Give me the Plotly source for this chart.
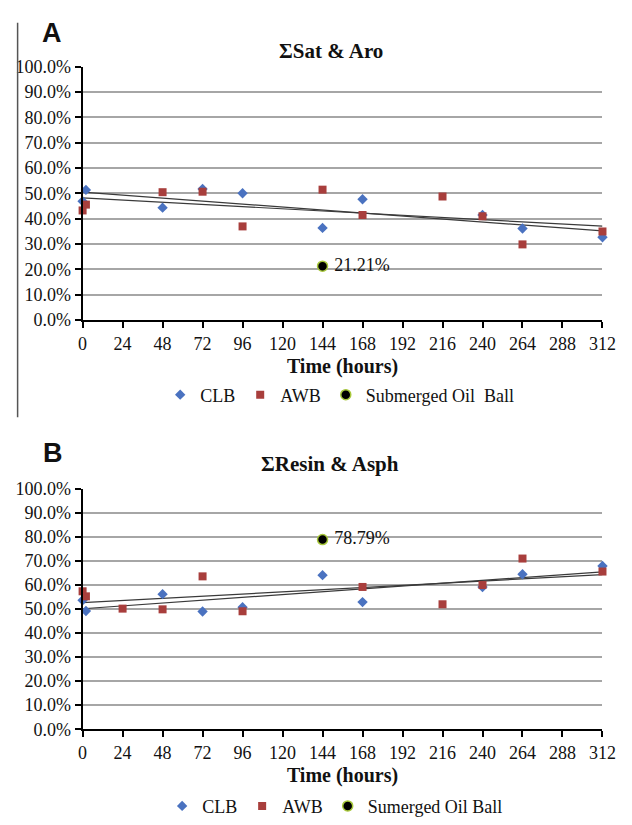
import numpy as np
import plotly.graph_objects as go

# ---------------- data ----------------
tick_hours = [0, 24, 48, 72, 96, 120, 144, 168, 192, 216, 240, 264, 288, 312]
y_ticks = [0, 10, 20, 30, 40, 50, 60, 70, 80, 90, 100]
y_tick_text = [f"{v:.1f}%" for v in y_ticks]

# Panel A: Sum Sat & Aro (%)
hours_clb_a = [0, 2, 48, 72, 96, 144, 168, 240, 264, 312]
clb_a = [46.8, 51.3, 44.3, 51.7, 50.0, 36.3, 47.6, 41.4, 36.1, 32.6]
hours_awb_a = [0, 2, 48, 72, 96, 144, 168, 216, 240, 264, 312]
awb_a = [43.2, 45.5, 50.4, 50.6, 36.9, 51.4, 41.4, 48.7, 40.9, 29.8, 34.9]
ball_hours = [144]
ball_a = [21.21]

# Panel B: Sum Resin & Asph (%)
hours_clb_b = [0, 2, 48, 72, 96, 144, 168, 240, 264, 312]
clb_b = [53.6, 49.1, 56.1, 48.9, 50.7, 64.0, 52.8, 59.1, 64.4, 67.8]
hours_awb_b = [0, 2, 24, 48, 72, 96, 168, 216, 240, 264, 312]
awb_b = [57.3, 55.2, 50.1, 49.8, 63.5, 49.0, 59.1, 51.9, 59.9, 70.9, 65.5]
ball_b = [78.79]

# ---------------- styles ----------------
W, H = 632, 825
SERIF = "Liberation Serif, Times New Roman, serif"
SANS = "Liberation Sans, Arial, sans-serif"
BLUE = "#4a72c0"
RED = "#a83e3c"
GRID = "#a6a6a6"
TREND = "#3a3a3a"
TXT = "#111"


def px_x(p):
    return p / W


def px_y(p):
    return 1 - p / H


fig = go.Figure()


def add_panel(xa, ya, leg, hc, yc, ha, ya_vals, yb, ball_name):
    xr = [0, 312]
    for hx, yy in ((hc, yc), (ha, ya_vals)):
        k, b = np.polyfit(hx, yy, 1)
        fig.add_trace(go.Scatter(x=xr, y=[b + k * v for v in xr], mode="lines",
                                 line=dict(color=TREND, width=1.2), showlegend=False,
                                 hoverinfo="skip", xaxis=xa, yaxis=ya))
    fig.add_trace(go.Scatter(x=hc, y=yc, mode="markers", name="CLB",
                             marker=dict(symbol="diamond", size=8, color=BLUE),
                             cliponaxis=False, xaxis=xa, yaxis=ya, legend=leg))
    fig.add_trace(go.Scatter(x=ha, y=ya_vals, mode="markers", name="AWB",
                             marker=dict(symbol="square", size=8, color=RED),
                             cliponaxis=False, xaxis=xa, yaxis=ya, legend=leg))
    fig.add_trace(go.Scatter(x=ball_hours, y=yb, mode="markers+text", name=ball_name,
                             text=[f" {v:.2f}%" for v in yb], textposition="middle right",
                             textfont=dict(family=SERIF, size=18, color=TXT),
                             marker=dict(symbol="circle", size=10, color="black",
                                         line=dict(color="#a8c83c", width=1.5)),
                             cliponaxis=False, xaxis=xa, yaxis=ya, legend=leg))


add_panel("x", "y", "legend", hours_clb_a, clb_a, hours_awb_a, awb_a, ball_a,
          "Submerged Oil\u00a0 Ball")
add_panel("x2", "y2", "legend2", hours_clb_b, clb_b, hours_awb_b, awb_b, ball_b,
          "Sumerged Oil Ball")

xdom = [px_x(80), px_x(616)]
common_x = dict(range=[0, 312], tickvals=tick_hours, showgrid=False, zeroline=False,
                showline=True, linecolor="black", linewidth=2, ticks="outside",
                ticklen=6, tickcolor="black", tickwidth=1.5,
                tickfont=dict(family=SERIF, size=18, color=TXT),
                title=dict(text="<b>Time (hours)</b>", standoff=6,
                           font=dict(family=SERIF, size=20, color=TXT)),
                domain=xdom)
common_y = dict(range=[0, 100], tickvals=y_ticks, ticktext=y_tick_text,
                showgrid=True, gridcolor=GRID, gridwidth=1.5, zeroline=False,
                showline=True, linecolor="black", linewidth=2, ticks="outside",
                ticklen=6, tickcolor="black", tickwidth=1.5,
                tickfont=dict(family=SERIF, size=18, color=TXT))

legend_common = dict(orientation="h", xanchor="left", yanchor="middle",
                     font=dict(family=SERIF, size=18, color=TXT),
                     itemwidth=30, bgcolor="rgba(0,0,0,0)")

fig.update_layout(
    width=W, height=H, margin=dict(l=0, r=0, t=0, b=0),
    paper_bgcolor="white", plot_bgcolor="white",
    xaxis=dict(common_x, anchor="y"),
    yaxis=dict(common_y, anchor="x", domain=[px_y(318), px_y(58)]),
    xaxis2=dict(common_x, anchor="y2"),
    yaxis2=dict(common_y, anchor="x2", domain=[px_y(738), px_y(491)]),
    legend=dict(legend_common, x=px_x(160), y=px_y(395)),
    legend2=dict(legend_common, x=px_x(162), y=px_y(817)),
    showlegend=True,
)

fig.add_annotation(x=px_x(336), y=px_y(42), xref="paper", yref="paper",
                   xanchor="center", yanchor="middle",
                   text="<b>ΣSat &amp; Aro</b>", showarrow=False,
                   font=dict(family=SERIF, size=21, color=TXT))
fig.add_annotation(x=px_x(335), y=px_y(466), xref="paper", yref="paper",
                   xanchor="center", yanchor="middle",
                   text="<b>ΣResin &amp; Asph</b>", showarrow=False,
                   font=dict(family=SERIF, size=21, color=TXT))
fig.add_annotation(x=px_x(48), y=px_y(24), xref="paper", yref="paper",
                   xanchor="center", yanchor="middle",
                   text="<b>A</b>", showarrow=False,
                   font=dict(family=SANS, size=27, color=TXT))
fig.add_annotation(x=px_x(49), y=px_y(455), xref="paper", yref="paper",
                   xanchor="center", yanchor="middle",
                   text="<b>B</b>", showarrow=False,
                   font=dict(family=SANS, size=27, color=TXT))

fig.add_shape(type="line", xref="paper", yref="paper",
              x0=px_x(13), x1=px_x(13), y0=px_y(13), y1=px_y(418),
              line=dict(color="#555", width=1.5))

fig.write_html("out.html")
